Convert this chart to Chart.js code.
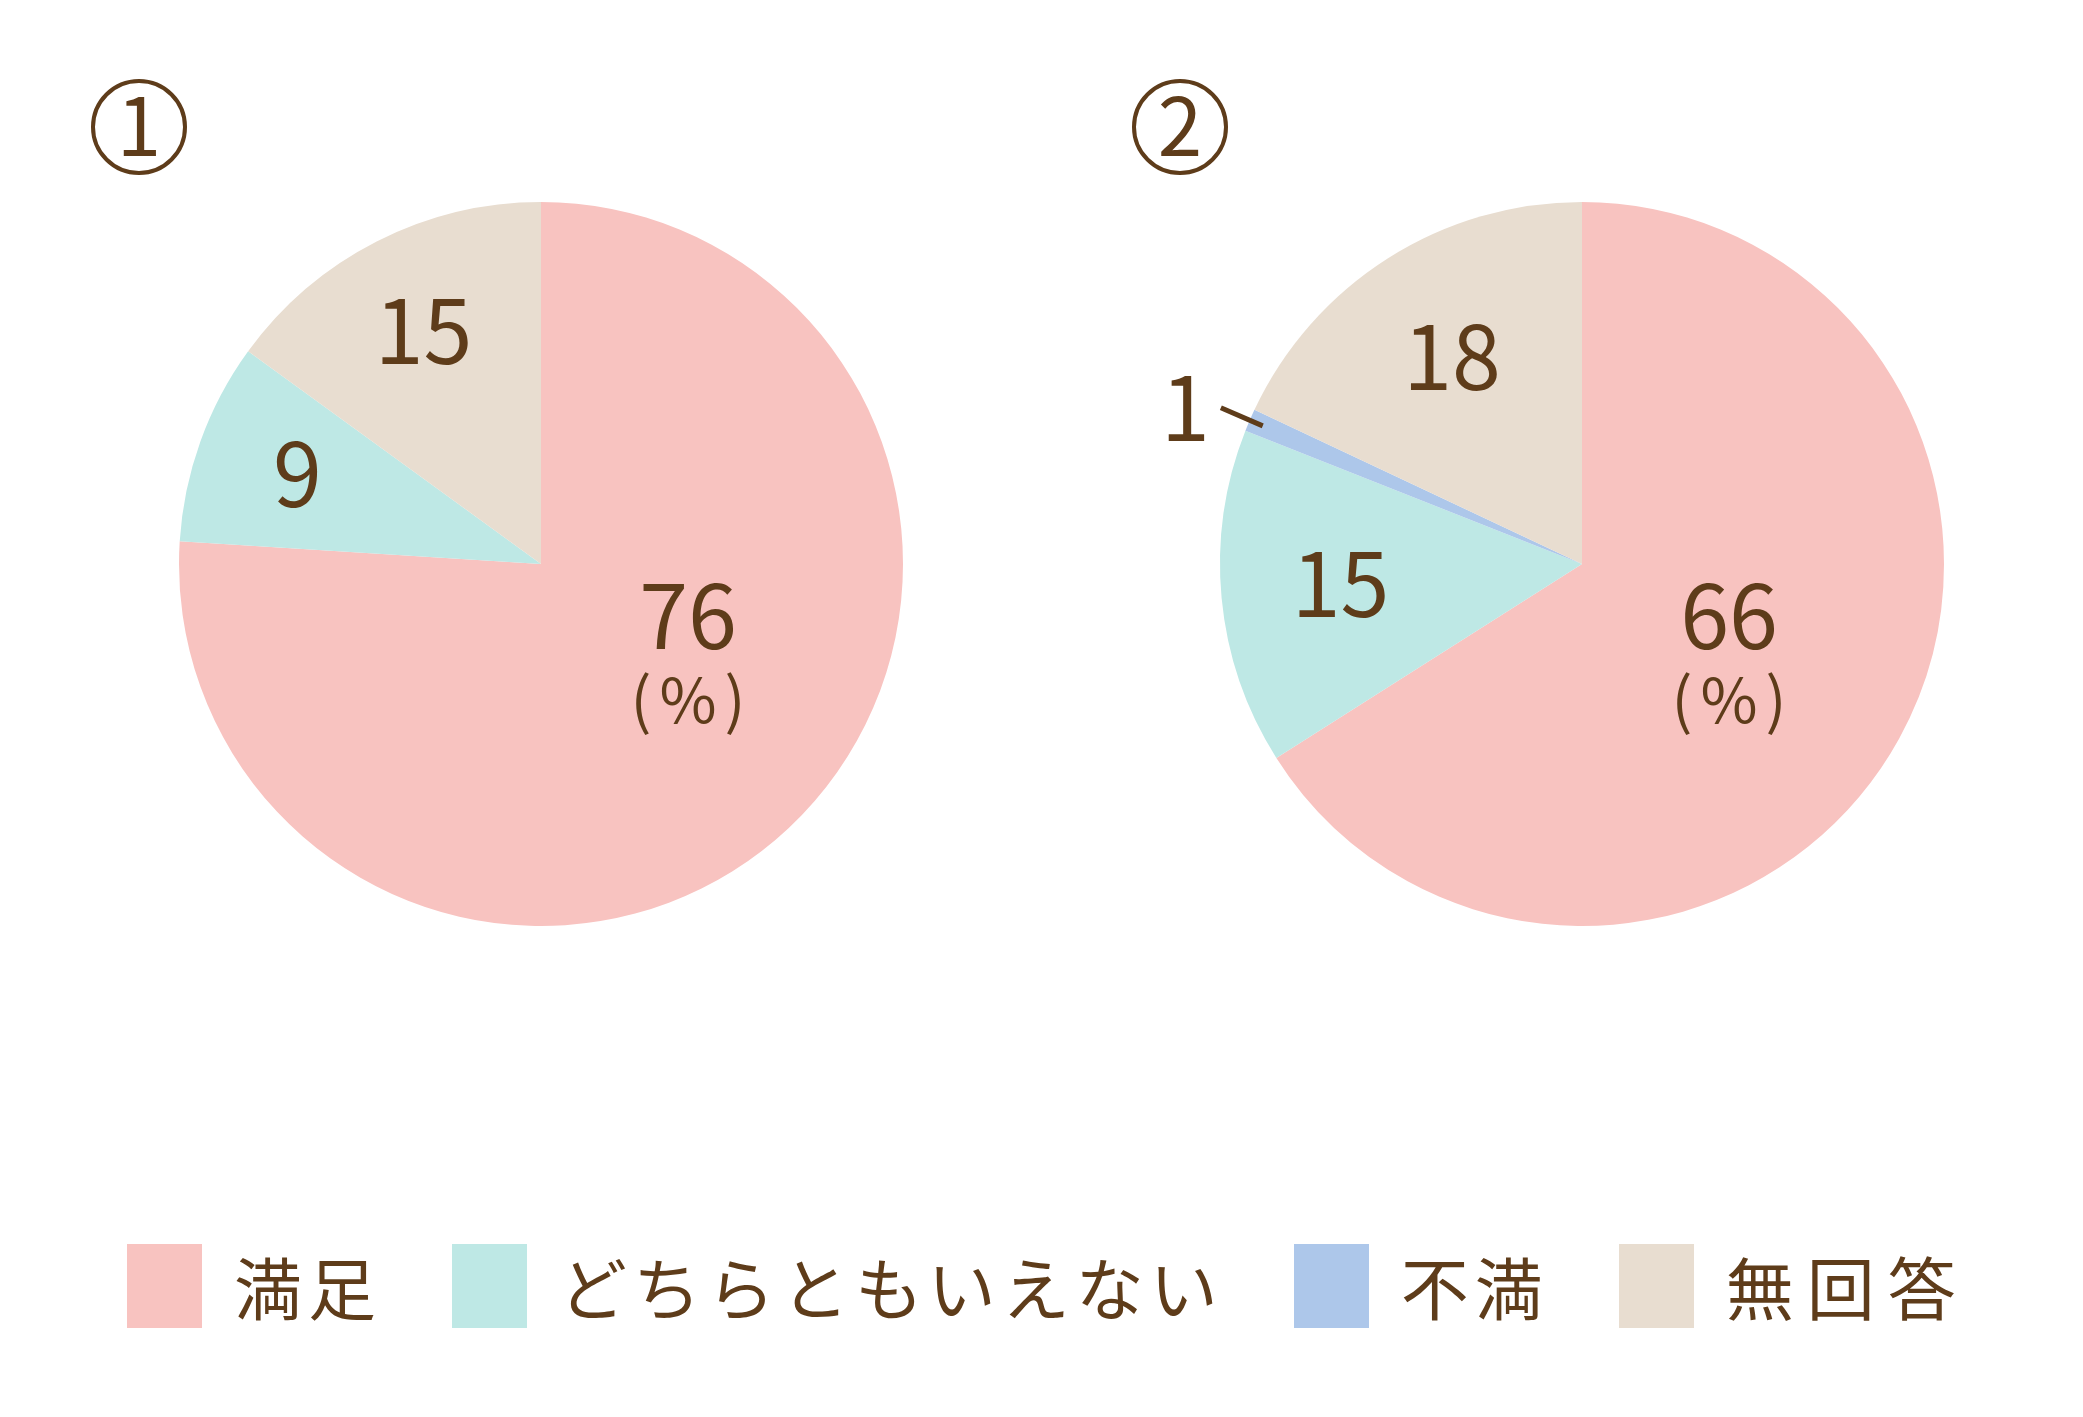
<!DOCTYPE html>
<html lang="ja">
<head>
<meta charset="UTF-8">
<title>満足度アンケート</title>
<script src="https://cdn.jsdelivr.net/npm/chart.js"></script>
<style>
    body {
        margin: 0;
        width: 2083px;
        height: 1417px;
        background: #fff;
        position: relative;
        overflow: hidden;
        font-family: "Noto Sans CJK JP", sans-serif;
        color: #5e3c1a;
    }
    .wrap {
        position: absolute;
        top: 114px;
        width: 900px;
        height: 900px;
    }
    .num {
        position: absolute;
        top: 79px;
        width: 88px;
        height: 76px;
        padding-bottom: 12px;
        border: 4px solid #5e3c1a;
        border-radius: 50%;
        text-align: center;
        line-height: 76px;
        font-size: 80px;
        font-weight: 400;
    }
    #legend {
        position: absolute;
        left: 127px;
        top: 1236px;
        display: flex;
        align-items: center;
    }
    .item {
        display: flex;
        align-items: center;
        margin-right: 70px;
    }
    .box {
        width: 75px;
        height: 84px;
        margin-right: 32px;
    }
    .item span {
        font-size: 68px;
        letter-spacing: 6px;
        font-weight: 400;
    }
    .item:last-child span {
        letter-spacing: 13px;
    }
</style>
</head>
<body>
    <div class="num" style="left:91px">1</div>
    <div class="num" style="left:1132px">2</div>
    <div class="wrap" style="left:91px"><canvas id="pie1" width="900" height="900"></canvas></div>
    <div class="wrap" style="left:1132px"><canvas id="pie2" width="900" height="900"></canvas></div>
    <div id="legend"></div>

<script>
    const categories = ['満足', 'どちらともいえない', '不満', '無回答'];
    const survey1 = [76, 9, 0, 15];
    const survey2 = [66, 15, 1, 18];
    const colors = ['#f8c3c0', '#bee8e5', '#adc7ea', '#e8ddd0'];
    const brown = '#5e3c1a';

    // labels: big slice gets a fixed spot with "(%)" under it, tiny slices go outside with a leader
    const sliceLabels = {
        id: 'sliceLabels',
        afterDatasetsDraw(chart, args, opts) {
            const ctx = chart.ctx;
            const values = chart.data.datasets[0].data;
            ctx.save();
            ctx.fillStyle = brown;
            ctx.strokeStyle = brown;
            ctx.textAlign = 'center';
            ctx.textBaseline = 'middle';
            ctx.font = '400 88px "Noto Sans CJK JP"';
            chart.getDatasetMeta(0).data.forEach((arc, i) => {
                const v = values[i];
                if (!v) return;
                const p = arc.getProps(['x', 'y', 'startAngle', 'endAngle', 'outerRadius'], true);
                let ang = (p.startAngle + p.endAngle) / 2;
                let r = p.outerRadius * opts.radius;
                if (i === 0) {
                    ang = 20.3 * Math.PI / 180;
                    r = p.outerRadius * 0.433;
                } else if (v < 3) {
                    r = p.outerRadius * 1.175;
                    ctx.lineWidth = 5;
                    ctx.beginPath();
                    ctx.moveTo(p.x + Math.cos(ang) * p.outerRadius * 1.087, p.y + Math.sin(ang) * p.outerRadius * 1.087);
                    ctx.lineTo(p.x + Math.cos(ang) * p.outerRadius * 0.961, p.y + Math.sin(ang) * p.outerRadius * 0.961);
                    ctx.stroke();
                    ang -= 2.2 * Math.PI / 180;
                }
                const lx = p.x + Math.cos(ang) * r;
                const ly = p.y + Math.sin(ang) * r - 3;
                ctx.fillText(String(v), lx, ly);
                if (i === 0) {
                    ctx.save();
                    ctx.font = '400 62px "Noto Sans CJK JP"';
                    ctx.letterSpacing = '8px';
                    ctx.fillText('(%)', lx + 4, ly + 84);
                    ctx.restore();
                }
            });
            ctx.restore();
        }
    };

    function createPie(canvasId, values, labelRadius) {
        new Chart(document.getElementById(canvasId), {
            type: 'pie',
            data: {
                labels: categories,
                datasets: [{
                    data: values,
                    backgroundColor: colors,
                    borderWidth: 0
                }]
            },
            options: {
                responsive: false,
                animation: false,
                layout: { padding: 88 },
                plugins: {
                    legend: { display: false },
                    tooltip: { enabled: false },
                    sliceLabels: { radius: labelRadius }
                }
            },
            plugins: [sliceLabels]
        });
    }

    createPie('pie1', survey1, 0.715);
    createPie('pie2', survey2, 0.67);

    const legend = document.getElementById('legend');
    categories.forEach((c, i) => {
        const item = document.createElement('div');
        item.className = 'item';
        item.innerHTML = '<div class="box" style="background:' + colors[i] + '"></div><span>' + c + '</span>';
        legend.appendChild(item);
    });
</script>
</body>
</html>
